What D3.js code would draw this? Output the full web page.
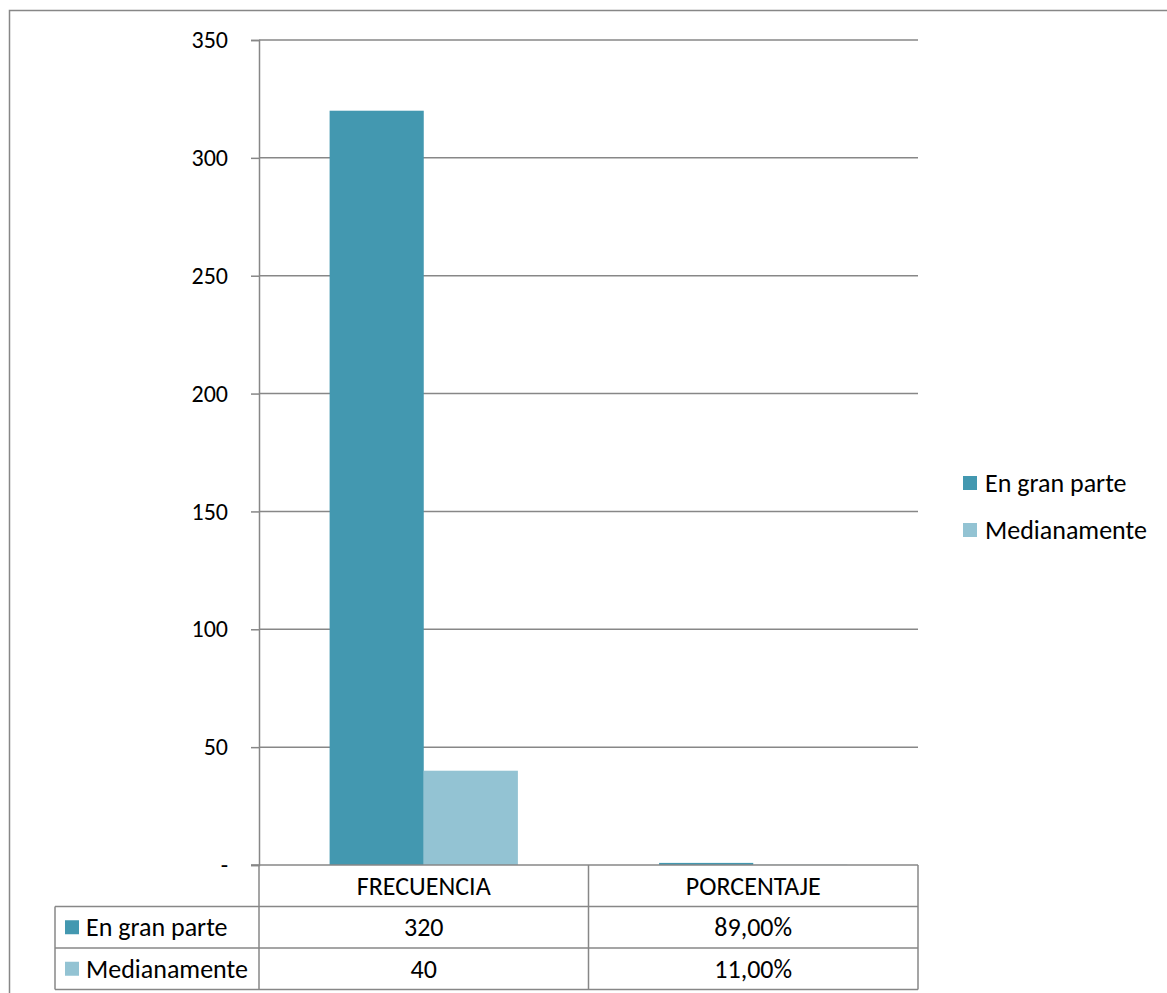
<!DOCTYPE html>
<html>
<head>
<meta charset="utf-8">
<script src="https://cdn.jsdelivr.net/npm/d3@7"></script>
<style>
  html, body { margin: 0; padding: 0; background: #fff; }
  svg { display: block; }
  text { font-family: Carlito, Lato, "Open Sans", sans-serif; fill: #000; }
</style>
</head>
<body>
<svg id="chart" width="1167" height="993"></svg>
<script>
// ---- data ----
const categories = ["FRECUENCIA", "PORCENTAJE"];
const seriesNames = ["En gran parte", "Medianamente"];
const enGranParte = [320, 0.89];
const medianamente = [40, 0.11];
const tableLabels = [["320", "89,00%"], ["40", "11,00%"]];
const yTicks = [0, 50, 100, 150, 200, 250, 300, 350];
const yTickLabels = ["-", "50", "100", "150", "200", "250", "300", "350"];
const colors = ["#4398B0", "#93C3D3"];

// ---- layout ----
const svg = d3.select("#chart");
const plot = { left: 259, right: 918, top: 40, bottom: 865 };
const tableLeft = 55;
const rowH = 41.5;
const gridColor = "#878787";

// outer border (extends past viewport right/bottom)
svg.append("rect")
  .attr("x", 9.5).attr("y", 10.5)
  .attr("width", 1200).attr("height", 1100)
  .attr("fill", "none").attr("stroke", gridColor).attr("stroke-width", 1.5);

const y = d3.scaleLinear().domain([0, 350]).range([plot.bottom, plot.top]);
const x0 = d3.scaleBand().domain(categories).range([plot.left, plot.right]).padding(0);
const x1 = d3.scaleBand().domain(seriesNames).range([0, x0.bandwidth()])
  .paddingInner(0).paddingOuter(0.75);

// gridlines
svg.append("g").selectAll("line").data(yTicks.filter(d => d > 0)).join("line")
  .attr("x1", plot.left).attr("x2", plot.right)
  .attr("y1", d => y(d)).attr("y2", d => y(d))
  .attr("stroke", gridColor).attr("stroke-width", 1.5);

// y axis
const yAxis = d3.axisLeft(y).tickValues(yTicks)
  .tickFormat((d, i) => yTickLabels[i]).tickSize(8).tickPadding(23);
const gy = svg.append("g").attr("transform", `translate(${plot.left},0)`).call(yAxis);
gy.select(".domain").attr("stroke", gridColor).attr("stroke-width", 1.5);
gy.selectAll(".tick line").attr("stroke", gridColor).attr("stroke-width", 1.5);
gy.selectAll(".tick text").style("font-size", "24px").attr("fill", "#000")
  .style("font-family", "Carlito, Lato, sans-serif");

// bars
const seriesData = [enGranParte, medianamente];
const g = svg.append("g");
seriesData.forEach((vals, si) => {
  g.selectAll(null).data(vals).join("rect")
    .attr("x", (d, i) => x0(categories[i]) + x1(seriesNames[si]))
    .attr("width", x1.bandwidth())
    .attr("y", d => y(d))
    .attr("height", d => y(0) - y(d))
    .attr("fill", colors[si]);
});

// x axis line (table top)
svg.append("line")
  .attr("x1", plot.left - 8).attr("x2", plot.right)
  .attr("y1", y(0)).attr("y2", y(0))
  .attr("stroke", gridColor).attr("stroke-width", 1.5);

// data table
const tableTop = y(0);
const tg = svg.append("g");
const rowYs = [tableTop, tableTop + rowH, tableTop + 2 * rowH, tableTop + 3 * rowH];
[1, 2, 3].forEach(k => {
  tg.append("line")
    .attr("x1", tableLeft).attr("x2", plot.right)
    .attr("y1", rowYs[k]).attr("y2", rowYs[k])
    .attr("stroke", gridColor).attr("stroke-width", 1.5);
});
[plot.left, x0(categories[1]), plot.right].forEach(xv => {
  tg.append("line")
    .attr("x1", xv).attr("x2", xv)
    .attr("y1", rowYs[0]).attr("y2", rowYs[3])
    .attr("stroke", gridColor).attr("stroke-width", 1.5);
});
tg.append("line")
  .attr("x1", tableLeft).attr("x2", tableLeft)
  .attr("y1", rowYs[1]).attr("y2", rowYs[3])
  .attr("stroke", gridColor).attr("stroke-width", 1.5);

// header text
categories.forEach((c, i) => {
  tg.append("text")
    .attr("x", x0(c) + x0.bandwidth() / 2)
    .attr("y", (rowYs[0] + rowYs[1]) / 2)
    .attr("text-anchor", "middle").attr("dominant-baseline", "central")
    .style("font-size", "26px").text(c);
});
// rows
seriesNames.forEach((s, si) => {
  const cy = (rowYs[si + 1] + rowYs[si + 2]) / 2;
  tg.append("rect").attr("x", 65).attr("y", cy - 7).attr("width", 14).attr("height", 14)
    .attr("fill", colors[si]);
  tg.append("text").attr("x", 86).attr("y", cy)
    .attr("dominant-baseline", "central").style("font-size", "26px").text(s);
  categories.forEach((c, ci) => {
    tg.append("text")
      .attr("x", x0(c) + x0.bandwidth() / 2).attr("y", cy)
      .attr("text-anchor", "middle").attr("dominant-baseline", "central")
      .style("font-size", "26px").text(tableLabels[si][ci]);
  });
});

// legend
const legendYs = [483, 530];
seriesNames.forEach((s, si) => {
  svg.append("rect").attr("x", 963).attr("y", legendYs[si] - 7)
    .attr("width", 14).attr("height", 14).attr("fill", colors[si]);
  svg.append("text").attr("x", 985).attr("y", legendYs[si])
    .attr("dominant-baseline", "central").style("font-size", "26px").text(s);
});
</script>
</body>
</html>
